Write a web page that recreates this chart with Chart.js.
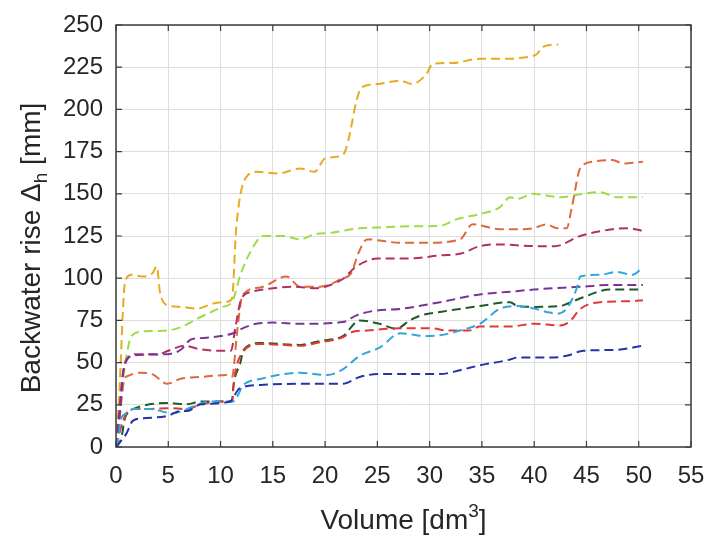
<!DOCTYPE html>
<html>
<head>
<meta charset="utf-8">
<script src="https://cdn.jsdelivr.net/npm/chart.js@4.4.1/dist/chart.umd.min.js"></script>
<style>
  html, body { margin: 0; padding: 0; background: #ffffff; }
  #c { display: block; }
</style>
</head>
<body>
<canvas id="c" width="726" height="540"></canvas>
<script>
// ---------------- data ----------------
const xTickValues = [0, 5, 10, 15, 20, 25, 30, 35, 40, 45, 50, 55];
const yTickValues = [0, 25, 50, 75, 100, 125, 150, 175, 200, 225, 250];

const goldVol = [0, 0.3, 0.8, 1.0, 1.5, 2.5, 3.5, 3.9, 4.2, 4.9, 6.2, 7.8, 9.3, 10.6, 11.1, 11.5, 12.6, 13.5, 15.5, 17.6, 19.0, 20.0, 21.7, 22.2, 23.0, 23.5, 25.0, 27.2, 28.3, 29.7, 30.3, 32.2, 34.8, 37.7, 38.6, 40.3, 40.8, 42.3];
const goldRise = [0, 30, 95, 100, 102, 101, 103, 107, 92, 84, 83, 82, 85, 86, 88, 130, 161, 163, 162, 165, 163, 171, 173, 181, 205, 213, 215, 217, 215, 221, 227, 227.5, 230, 230, 230.5, 233, 237, 238.5];

const greenVol = [0, 0.3, 0.9, 1.5, 2.6, 4.9, 6.2, 8.1, 10.2, 11.1, 11.9, 12.8, 14.1, 16.0, 17.6, 19.0, 20.7, 23.3, 25.0, 28.8, 31.0, 32.6, 34.8, 36.7, 37.7, 38.4, 39.9, 42.5, 44.7, 46.3, 47.9, 50.4];
const greenRise = [0, 20, 50, 66, 68.5, 69, 71, 77, 83, 86, 102, 115, 125, 125, 123, 126, 127, 129.6, 130, 130.8, 131, 135, 138, 142, 148, 147, 150, 148, 150, 151, 148, 148];

const orangeVol = [0, 0.3, 0.8, 1.1, 2.3, 3.5, 4.9, 6.2, 8.1, 10.7, 11.1, 11.6, 12.1, 13.8, 16.3, 17.6, 19.5, 21.7, 22.5, 23.2, 24.0, 27.2, 29.7, 32.9, 34.1, 36.7, 38.6, 39.9, 41.2, 42.2, 43.1, 43.6, 44.4, 45.6, 47.5, 48.5, 50.4];
const orangeRise = [0, 15, 40, 42, 44, 43, 37.5, 40.4, 41.5, 42.6, 41.5, 69, 90, 94.5, 101, 95, 95, 100, 103, 115, 123, 121, 121, 123, 131.9, 129, 129, 129.6, 131.9, 129.6, 129.6, 142, 165, 169, 170, 168, 169];

const crimsonVol = [0, 0.3, 0.7, 1.0, 2.0, 4.0, 5.0, 6.5, 8.0, 10.0, 11.0, 11.4, 12.0, 13.0, 15.0, 17.0, 19.0, 20.5, 21.8, 22.8, 23.9, 25.0, 28.0, 31.0, 33.0, 34.8, 36.7, 40.0, 42.0, 44.4, 47.5, 49.0, 50.4];
const crimsonRise = [0, 20, 45, 52, 55, 55, 57, 60, 58, 57, 57, 70, 88, 92, 94, 95, 94, 96, 100, 106, 110, 111.7, 111.7, 113.5, 114.6, 119, 120, 119, 119, 125, 129, 129.6, 128];

const purpleVol = [0, 0.3, 0.7, 1.6, 2.6, 4.9, 6.2, 7.1, 8.1, 10.0, 11.2, 12.0, 13.4, 15.0, 17.6, 21.7, 23.0, 24.6, 27.2, 31.0, 34.8, 37.7, 40.0, 43.1, 44.7, 47.0, 50.4];
const purpleRise = [0, 15, 45, 54, 54.7, 55, 57.6, 63.4, 64.5, 65.7, 67.4, 70, 73, 73.7, 73, 74, 78, 80.6, 81.8, 85.8, 90.4, 92, 93.3, 94.5, 95, 96, 96];

const dkgreenVol = [0, 0.5, 0.85, 1.3, 2.3, 4.9, 6.8, 8.1, 10.6, 11.1, 11.2, 11.9, 12.2, 13.8, 17.6, 19.5, 21.7, 23.3, 25.2, 26.8, 28.1, 29.1, 31.0, 32.9, 34.8, 37.7, 38.4, 40.0, 42.5, 43.1, 44.7, 47.2, 50.4];
const dkgreenRise = [0, 5, 17, 21, 24, 26, 25.3, 27, 27, 27, 34.6, 50, 57.6, 61.6, 60.5, 62.8, 65.7, 75, 73, 70, 75, 77.8, 80, 81.8, 83.5, 85.8, 83.5, 83, 83.5, 84.7, 88.7, 93.3, 93.3];

const redVol = [0, 0.4, 1.0, 1.6, 3.0, 4.9, 6.8, 8.1, 10.6, 11.1, 11.3, 12.0, 13.8, 17.6, 19.5, 21.7, 22.5, 24.0, 27.2, 30.3, 31.6, 33.8, 34.8, 37.7, 40.0, 42.5, 43.4, 44.4, 46.3, 49.4, 50.4];
const redRise = [0, 10, 20, 22.5, 22.5, 23, 22.5, 25.3, 27, 27, 40, 55, 61, 60, 62, 65, 68, 69, 70.3, 70.3, 69, 69, 71.4, 71.4, 73, 72, 74.3, 81.8, 85.8, 86.4, 87];

const cyanVol = [0, 0.3, 0.4, 1.1, 1.6, 3.2, 5.4, 7.4, 9.0, 11.2, 12.2, 13.8, 17.6, 20.2, 21.7, 23.3, 25.2, 27.2, 29.7, 31.0, 32.9, 34.8, 36.7, 38.4, 40.0, 41.2, 42.2, 43.1, 44.1, 44.4, 46.3, 47.9, 49.4, 50.4];
const cyanRise = [0, 8, 15.5, 20, 22.5, 22.5, 20, 24, 27, 27, 36.8, 40.3, 44, 42.6, 46, 54, 58.8, 67.4, 65.7, 66.2, 69, 73, 81.8, 83.5, 82, 80, 79, 82, 94.5, 101, 102, 103.7, 102, 106.6];

const navyVol = [0, 0.4, 1.0, 1.6, 2.6, 4.9, 6.2, 6.8, 8.1, 10.9, 11.8, 13.8, 17.6, 21.7, 23.3, 25.2, 31.0, 32.9, 34.8, 37.7, 38.4, 41.6, 43.1, 44.7, 47.9, 50.4];
const navyRise = [0, 3, 8, 15.5, 17, 18.4, 21.3, 21.3, 25.3, 27, 34.6, 36.8, 37.4, 37.4, 41.5, 43.2, 43.2, 45.5, 48.4, 51.8, 53, 53, 54, 57, 57.6, 60];

const seriesList = [
  { name: 'navy',    vol: navyVol,    rise: navyRise,    color: '#2633A8' },
  { name: 'cyan',    vol: cyanVol,    rise: cyanRise,    color: '#2FA6DE' },
  { name: 'red',     vol: redVol,     rise: redRise,     color: '#E23A32' },
  { name: 'dkgreen', vol: dkgreenVol, rise: dkgreenRise, color: '#1F5A28' },
  { name: 'purple',  vol: purpleVol,  rise: purpleRise,  color: '#7B3494' },
  { name: 'crimson', vol: crimsonVol, rise: crimsonRise, color: '#B5305F' },
  { name: 'orange',  vol: orangeVol,  rise: orangeRise,  color: '#DC6A3E' },
  { name: 'green',   vol: greenVol,   rise: greenRise,   color: '#9EDC45' },
  { name: 'gold',    vol: goldVol,    rise: goldRise,    color: '#E5AC22' }
];

// ---------------- chart ----------------
const FONT = '"Liberation Sans", Arial, Helvetica, sans-serif';
const TEXT = '#262626';

const datasets = seriesList.map(s => ({
  label: s.name,
  data: s.vol.map((v, i) => ({ x: v, y: s.rise[i] })),
  borderColor: s.color,
  backgroundColor: s.color,
  borderWidth: 2,
  borderDash: [9, 5],
  pointRadius: 0,
  fill: false,
  tension: 0,
  cubicInterpolationMode: 'monotone'
}));

const frame = {
  id: 'frame',
  afterDraw(chart) {
    const { ctx, chartArea: a, scales: { x, y } } = chart;
    ctx.save();
    ctx.strokeStyle = '#3C3C3C';
    ctx.lineWidth = 1.5;
    ctx.strokeRect(a.left, a.top, a.right - a.left, a.bottom - a.top);
    ctx.lineWidth = 1.2;
    ctx.beginPath();
    const tl = 6;
    xTickValues.forEach(v => {
      const px = x.getPixelForValue(v);
      ctx.moveTo(px, a.bottom); ctx.lineTo(px, a.bottom - tl);
      ctx.moveTo(px, a.top); ctx.lineTo(px, a.top + tl);
    });
    yTickValues.forEach(v => {
      const py = y.getPixelForValue(v);
      ctx.moveTo(a.left, py); ctx.lineTo(a.left + tl, py);
      ctx.moveTo(a.right, py); ctx.lineTo(a.right - tl, py);
    });
    ctx.stroke();

    // axis titles with sub/superscripts
    ctx.fillStyle = TEXT;
    ctx.textBaseline = 'alphabetic';
    const big = '28px ' + FONT, small = '19px ' + FONT;
    // y title
    const p1 = 'Backwater rise \u0394', p2 = 'h', p3 = ' [mm]';
    ctx.font = big; const w1 = ctx.measureText(p1).width, w3 = ctx.measureText(p3).width;
    ctx.font = small; const w2 = ctx.measureText(p2).width;
    const tot = w1 + w2 + w3;
    ctx.save();
    ctx.translate(40, (a.top + a.bottom) / 2 + 12);
    ctx.rotate(-Math.PI / 2);
    let sx = -tot / 2;
    ctx.textAlign = 'left';
    ctx.font = big; ctx.fillText(p1, sx, 0); sx += w1;
    ctx.font = small; ctx.fillText(p2, sx, 7); sx += w2;
    ctx.font = big; ctx.fillText(p3, sx, 0);
    ctx.restore();
    // x title
    const q1 = 'Volume [dm', q2 = '3', q3 = ']';
    ctx.font = big; const v1 = ctx.measureText(q1).width, v3 = ctx.measureText(q3).width;
    ctx.font = small; const v2 = ctx.measureText(q2).width;
    const tot2 = v1 + v2 + v3;
    let tx = (a.left + a.right) / 2 - tot2 / 2;
    const by = 529;
    ctx.textAlign = 'left';
    ctx.font = big; ctx.fillText(q1, tx, by); tx += v1;
    ctx.font = small; ctx.fillText(q2, tx, by - 12); tx += v2;
    ctx.font = big; ctx.fillText(q3, tx, by);
    ctx.restore();
  }
};

new Chart(document.getElementById('c'), {
  type: 'line',
  data: { datasets },
  plugins: [frame],
  options: {
    responsive: false,
    animation: false,
    events: [],
    layout: { padding: { left: 0, right: 35, top: 13, bottom: 0 } },
    plugins: { legend: { display: false }, tooltip: { enabled: false }, title: { display: false } },
    scales: {
      x: {
        type: 'linear', min: 0, max: 55,
        afterBuildTicks(s) { s.ticks = xTickValues.map(v => ({ value: v })); },
        afterFit(s) { s.height = 93; },
        ticks: { font: { size: 24, family: FONT, lineHeight: 1 }, color: TEXT, padding: 17, maxRotation: 0, autoSkip: false },
        grid: { color: '#DEDEDE', lineWidth: 1, drawTicks: false },
        border: { display: false }
      },
      y: {
        type: 'linear', min: 0, max: 250,
        afterBuildTicks(s) { s.ticks = yTickValues.map(v => ({ value: v })); },
        afterFit(s) { s.width = 116; },
        ticks: { font: { size: 24, family: FONT, lineHeight: 1 }, color: TEXT, padding: 13, autoSkip: false },
        grid: { color: '#DEDEDE', lineWidth: 1, drawTicks: false },
        border: { display: false }
      }
    }
  }
});
</script>
</body>
</html>
